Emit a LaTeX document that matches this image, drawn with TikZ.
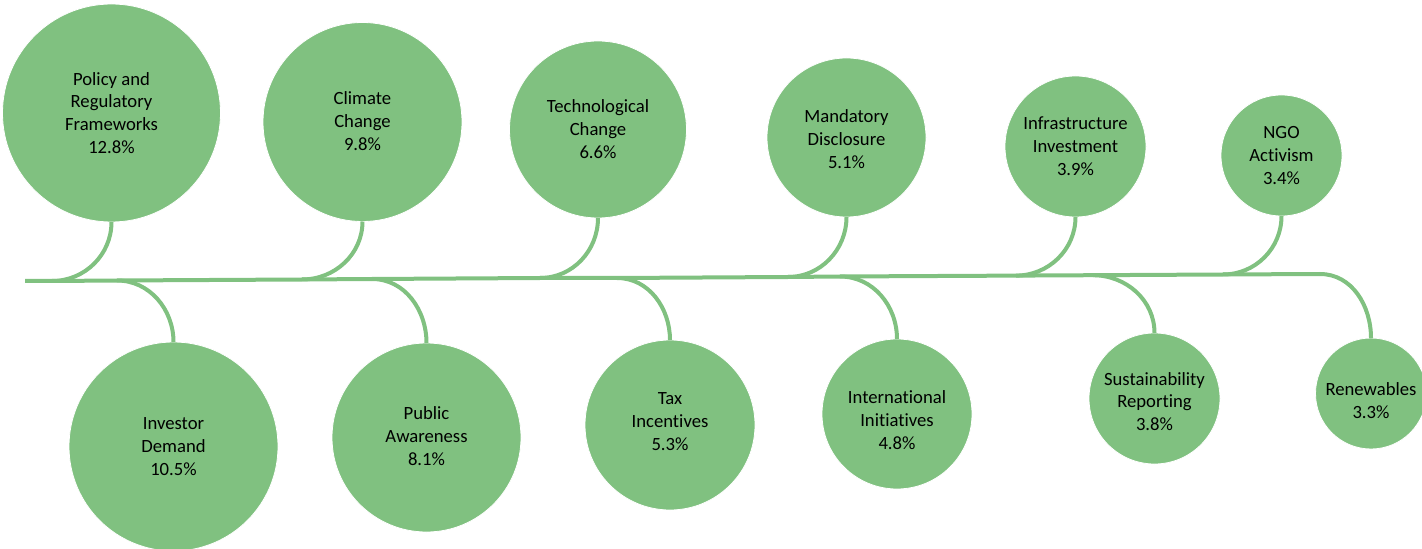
\documentclass[tikz,border=0pt]{standalone}
\usepackage{fontspec}
\setmainfont{Carlito}[Ligatures=NoCommon]
\definecolor{leaf}{RGB}{128,193,128}
\begin{document}
\begin{tikzpicture}[x=0.75pt,y=0.75pt,
  bubble/.style={circle,fill=leaf,draw=white,line width=0.6pt,inner sep=0pt,outer sep=0pt},
  caption/.style={align=center,inner sep=0pt,font=\fontsize{14pt}{17.2pt}\selectfont,text=black},
  link/.style={draw=leaf,line width=3pt}]
\useasboundingbox (0,0) rectangle (1422,-549);
% top bubbles
\node[bubble,minimum size=218pt*0.75] (c1) at (111.5,-113) {};
\node[bubble,minimum size=199pt*0.75] (c2) at (362.5,-122) {};
\node[bubble,minimum size=177pt*0.75] (c3) at (598,-129.5) {};
\node[bubble,minimum size=159pt*0.75] (c4) at (846.5,-137.5) {};
\node[bubble,minimum size=141pt*0.75] (c5) at (1075.5,-146.5) {};
\node[bubble,minimum size=121pt*0.75] (c6) at (1281.5,-155.5) {};
% bottom bubbles
\node[bubble,minimum size=209pt*0.75] (c7) at (173.5,-446.5) {};
\node[bubble,minimum size=189pt*0.75] (c8) at (426.5,-437.5) {};
\node[bubble,minimum size=170pt*0.75] (c9) at (670,-425) {};
\node[bubble,minimum size=150pt*0.75] (c10) at (897,-414) {};
\node[bubble,minimum size=131pt*0.75] (c11) at (1154.5,-398.5) {};
\node[bubble,minimum size=111pt*0.75] (c12) at (1371,-393.5) {};
% captions
\node[caption] (t1) at ([yshift=0pt]c1.center) {Policy and\\Regulatory\\Frameworks\\12.8\%};
\node[caption] (t2) at ([yshift=0.5pt]c2.center) {Climate\\Change\\9.8\%};
\node[caption] (t3) at ([yshift=0pt]c3.center) {Technological\\Change\\6.6\%};
\node[caption] (t4) at ([yshift=-1pt]c4.center) {Mandatory\\Disclosure\\5.1\%};
\node[caption] (t5) at ([yshift=0pt]c5.center) {Infrastructure\\Investment\\3.9\%};
\node[caption] (t6) at ([yshift=0pt]c6.center) {NGO\\Activism\\3.4\%};
\node[caption] (t7) at ([yshift=0pt]c7.center) {Investor\\Demand\\10.5\%};
\node[caption] (t8) at ([yshift=1pt]c8.center) {Public\\Awareness\\8.1\%};
\node[caption] (t9) at ([yshift=2.3pt]c9.center) {Tax\\Incentives\\5.3\%};
\node[caption] (t10) at ([yshift=-4.8pt]c10.center) {International\\Initiatives\\4.8\%};
\node[caption] (t11) at ([yshift=-2.3pt]c11.center) {Sustainability\\Reporting\\3.8\%};
\node[caption] (t12) at ([yshift=-5pt]c12.center) {Renewables\\3.3\%};
% junctions on the spine
\coordinate (L) at (25,-281);
\coordinate (j1) at (52,-281);
\coordinate (j7) at (117,-280.5);
\coordinate (j2) at (302,-279.5);
\coordinate (j8) at (372,-279);
\coordinate (j3) at (540,-278);
\coordinate (j9) at (617,-278);
\coordinate (j4) at (788,-277);
\coordinate (j10) at (840,-276.5);
\coordinate (j5) at (1016,-275.6);
\coordinate (j11) at (1093,-275.2);
\coordinate (j6) at (1223,-274.5);
\coordinate (j12) at (1320,-274);
% spine
\draw[link] (L) -- (j1) -- (j7) -- (j2) -- (j8) -- (j3) -- (j9) -- (j4) -- (j10) -- (j5) -- (j11) -- (j6) -- (j12);
% top connectors
\foreach \c/\j in {c1/j1,c2/j2,c3/j3,c4/j4,c5/j5,c6/j6}
  \draw[link] (\c.south) to[out=-90,in=0] (\j);
% bottom connectors
\foreach \c/\j in {c7/j7,c8/j8,c9/j9,c10/j10,c11/j11,c12/j12}
  \draw[link] (\j) to[out=0,in=90] (\c.north);
\end{tikzpicture}
\end{document}
